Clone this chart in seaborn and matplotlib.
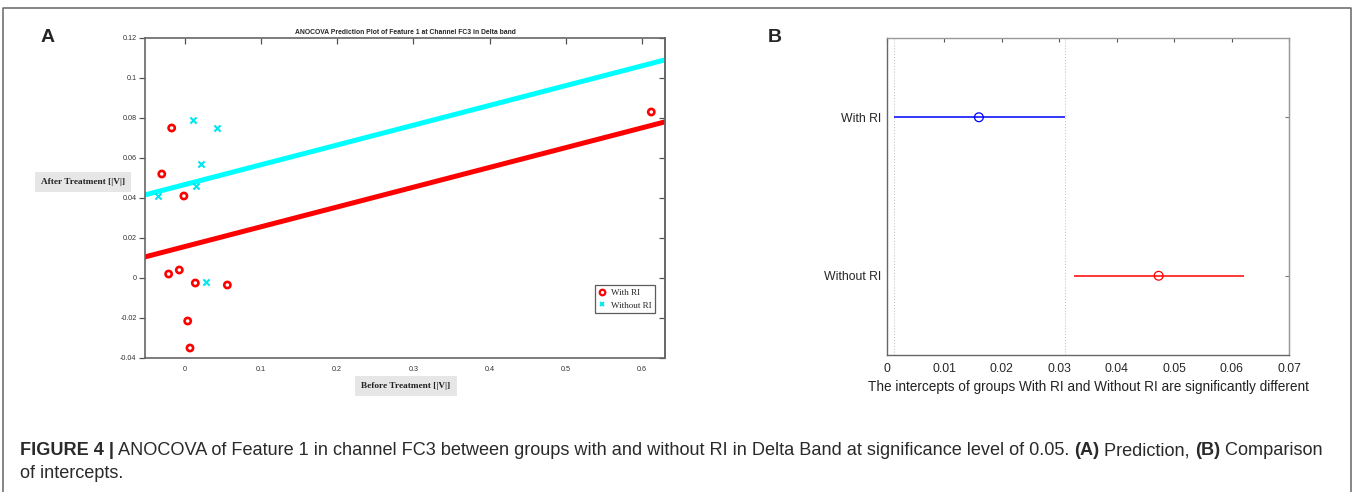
import numpy as np
import pandas as pd
import matplotlib
matplotlib.use("Agg")
import matplotlib.pyplot as plt
from matplotlib.lines import Line2D
from matplotlib.ticker import FuncFormatter
import seaborn as sns

# ---- panel A data ----
with_x = [-0.017, -0.030, -0.001, -0.021, -0.007, 0.014, 0.056, 0.004, 0.007, 0.612]
with_y = [0.075, 0.052, 0.041, 0.002, 0.004, -0.0025, -0.0035, -0.0215, -0.035, 0.083]
without_x = [-0.035, 0.011, 0.043, 0.022, 0.015, 0.028]
without_y = [0.041, 0.079, 0.075, 0.057, 0.046, -0.002]
fit_slope = 0.099
fit_intercept_with = 0.0157
fit_intercept_without = 0.0467
a_xlim = (-0.052, 0.63)
a_ylim = (-0.04, 0.12)
a_xticks = [0, 0.1, 0.2, 0.3, 0.4, 0.5, 0.6]
a_yticks = [-0.04, -0.02, 0, 0.02, 0.04, 0.06, 0.08, 0.1, 0.12]

# ---- panel B data ----
groups = ["With RI", "Without RI"]
est = [0.0160, 0.0473]
ci_low = [0.0012, 0.0325]
ci_high = [0.0310, 0.0621]
b_colors = ["#0000ff", "#ff0000"]
b_xticks = [0, 0.01, 0.02, 0.03, 0.04, 0.05, 0.06, 0.07]

W, H = 1357, 492
sns.set_style("white")
plt.rcParams["font.family"] = ["Liberation Sans", "DejaVu Sans"]

fig = plt.figure(figsize=(W / 100, H / 100), dpi=100)


def box(l, t, r, b):
    return [l / W, 1 - b / H, (r - l) / W, (b - t) / H]


fmt = FuncFormatter(lambda v, p: "%g" % round(v, 4))

# ================= panel A =================
ax = fig.add_axes(box(145, 38, 665, 358))
xs = np.array(a_xlim)
sns.lineplot(x=xs, y=fit_intercept_without + fit_slope * xs, color="#00ffff",
             lw=3.6, ax=ax, zorder=2)
sns.lineplot(x=xs, y=fit_intercept_with + fit_slope * xs, color="#ff0000",
             lw=3.6, ax=ax, zorder=2)
sns.scatterplot(x=with_x, y=with_y, marker="o", s=20, facecolor="none",
                edgecolor="#ff0000", color="#ff0000", linewidth=1.9, ax=ax,
                zorder=3, legend=False)
sns.scatterplot(x=without_x, y=without_y, marker="x", s=20, color="#00e5ee",
                linewidth=1.5, ax=ax, zorder=3, legend=False)
ax.set_xlim(*a_xlim)
ax.set_ylim(*a_ylim)
ax.set_xticks(a_xticks)
ax.set_yticks(a_yticks)
ax.xaxis.set_major_formatter(fmt)
ax.yaxis.set_major_formatter(fmt)
narrow = ["Liberation Sans Narrow", "Liberation Sans", "DejaVu Sans"]
for lab in ax.get_xticklabels() + ax.get_yticklabels():
    lab.set_family(narrow)
    lab.set_fontsize(5.2)
    lab.set_color("#333333")
ax.tick_params(axis="x", direction="in", top=True, length=4, width=0.9,
               color="#555555", pad=6)
ax.tick_params(axis="y", direction="out", left=True, right=False, length=4,
               width=0.9, color="#555555", pad=2)
sec = ax.secondary_yaxis("right")
sec.set_yticks(a_yticks)
sec.tick_params(direction="in", length=4, width=0.9, color="#555555",
                labelright=False)
sec.spines["right"].set_color("#666666")
sec.spines["right"].set_linewidth(1.2)
for s in ax.spines.values():
    s.set_color("#666666")
    s.set_linewidth(1.2)
ax.set_title("ANOCOVA Prediction Plot of Feature 1 at Channel FC3 in Delta band",
             fontsize=4.9, fontweight="bold", family=narrow, pad=3)
ax.set_xlabel("")
ax.set_ylabel("")
handles = [
    Line2D([], [], ls="none", marker="o", mfc="none", mec="#ff0000", mew=1.6, ms=4),
    Line2D([], [], ls="none", marker="x", color="#00e5ee", mew=1.4, ms=3.5),
]
leg = ax.legend(handles, ["With RI", "Without RI"], loc="lower right",
                bbox_to_anchor=(0.981, 0.14), fancybox=False, frameon=True,
                prop={"family": "Liberation Serif", "size": 6.5},
                handlelength=0.8, handletextpad=0.6, borderpad=0.4,
                labelspacing=0.5, borderaxespad=0)
leg.get_frame().set_edgecolor("#333333")
leg.get_frame().set_linewidth(0.9)

lab_box = dict(facecolor="#e6e6e6", edgecolor="none", pad=4.5)
fig.text(83 / W, 1 - 182 / H, "After Treatment [|V|]", ha="center", va="center",
         family="Liberation Serif", fontweight="bold", fontsize=6.7,
         color="#222222", bbox=lab_box)
fig.text(406 / W, 1 - 386 / H, "Before Treatment [|V|]", ha="center",
         va="center", family="Liberation Serif", fontweight="bold",
         fontsize=6.7, color="#222222", bbox=lab_box)

# ================= panel B =================
bx = fig.add_axes(box(887, 38, 1289, 355))
bdf = pd.DataFrame({"group": groups, "est": est, "lo": ci_low, "hi": ci_high})
bx.hlines(bdf["group"], bdf["lo"], bdf["hi"], colors=b_colors, lw=1.1, zorder=2)
sns.scatterplot(data=bdf, x="est", y="group", hue="group", palette=b_colors,
                marker="o", s=40, facecolor="none", linewidth=0.9, ax=bx,
                legend=False, zorder=3)
pts = bx.collections[-1]
pts.set_facecolor("none")
pts.set_edgecolors(b_colors)
for xv in (ci_low[0], ci_high[0]):
    bx.axvline(xv, ls=(0, (1, 2)), color="#bbbbbb", lw=0.7, zorder=1)
bx.set_xlim(0, 0.07)
bx.set_ylim(1.5, -0.5)
bx.set_xticks(b_xticks)
bx.xaxis.set_major_formatter(fmt)
bx.set_ylabel("")
bx.set_xlabel("The intercepts of groups With RI and Without RI are significantly different",
              fontsize=9.8, color="#222222", labelpad=3)
bx.tick_params(axis="x", direction="in", top=True, length=3, width=0.8,
               color="#555555", labelsize=8.8, labelcolor="#262626", pad=6)
bx.tick_params(axis="y", direction="out", right=False, length=3, width=0.8,
               color="#777777", labelsize=8.8, labelcolor="#262626", pad=1)
bsec = bx.secondary_yaxis("right")
bsec.set_yticks([0, 1])
bsec.tick_params(direction="in", length=3, width=0.8, color="#777777",
                 labelright=False)
bsec.spines["right"].set_color("#aaaaaa")
for s in bx.spines.values():
    s.set_color("#999999")
    s.set_linewidth(1.0)
bx.spines["left"].set_color("#666666")
bx.spines["bottom"].set_color("#666666")

# ---- panel letters ----
fig.text(48 / W, 1 - 37 / H, "A", fontsize=14, fontweight="bold", ha="center",
         va="center")
fig.text(775 / W, 1 - 37 / H, "B", fontsize=14, fontweight="bold", ha="center",
         va="center")

# ---- outer frame ----
fx = [3 / W, 3 / W, 1351 / W, 1351 / W]
fy = [0, 1 - 8 / H, 1 - 8 / H, 0]
fig.add_artist(Line2D(fx, fy, color="#666666", lw=1.1, transform=fig.transFigure))

# ---- caption ----
cap_size = 13.05
cap_color = "#2a2a2a"
line1 = [("FIGURE 4 |", "bold"),
         (" ANOCOVA of Feature 1 in channel FC3 between groups with and without RI in Delta Band at significance level of 0.05. ", "normal"),
         ("(A)", "bold"), (" Prediction, ", "normal"), ("(B)", "bold"),
         (" Comparison", "normal")]
renderer = fig.canvas.get_renderer()
x0 = 20 / W
for txt, wt in line1:
    t = fig.text(x0, 1 - 455 / H, txt, fontsize=cap_size, fontweight=wt,
                 color=cap_color, va="baseline", ha="left")
    x0 += t.get_window_extent(renderer).width / W
fig.text(20 / W, 1 - 478 / H, "of intercepts.", fontsize=cap_size,
         color=cap_color, va="baseline", ha="left")

fig.savefig("out.png", dpi=100)
